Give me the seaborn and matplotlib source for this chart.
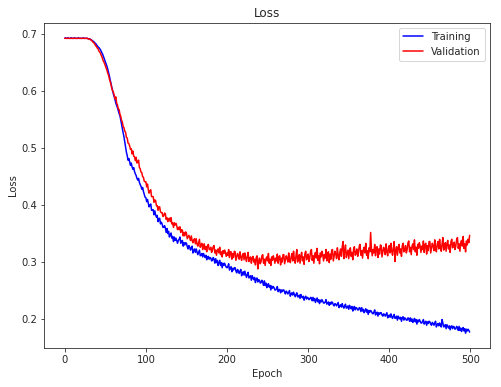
import numpy as np
import pandas as pd
import matplotlib
matplotlib.use("Agg")
import matplotlib.pyplot as plt
import seaborn as sns

# ----------------------------
# Loss curves (one value per epoch)
# ----------------------------

training_loss = [
    0.693, 0.694, 0.693, 0.693, 0.694, 0.693, 0.693, 0.693, 0.694, 0.693,
    0.693, 0.693, 0.694, 0.693, 0.693, 0.693, 0.693, 0.694, 0.693, 0.693,
    0.693, 0.693, 0.693, 0.694, 0.693, 0.693, 0.693, 0.693, 0.693, 0.692,
    0.692, 0.692, 0.691, 0.690, 0.689, 0.688, 0.687, 0.685, 0.684, 0.682,
    0.680, 0.678, 0.677, 0.675, 0.673, 0.670, 0.667, 0.664, 0.660, 0.656,
    0.652, 0.648, 0.644, 0.639, 0.633, 0.627, 0.620, 0.614, 0.607, 0.601,
    0.595, 0.590, 0.585, 0.579, 0.575, 0.571, 0.566, 0.561, 0.557, 0.550,
    0.542, 0.535, 0.527, 0.520, 0.511, 0.502, 0.493, 0.487, 0.479, 0.482,
    0.476, 0.470, 0.474, 0.467, 0.463, 0.466, 0.459, 0.455, 0.452, 0.447,
    0.444, 0.447, 0.440, 0.436, 0.433, 0.428, 0.431, 0.424, 0.419, 0.414,
    0.413, 0.406, 0.410, 0.403, 0.397, 0.400, 0.402, 0.391, 0.391, 0.392,
    0.383, 0.390, 0.383, 0.379, 0.382, 0.371, 0.376, 0.377, 0.367, 0.370,
    0.367, 0.361, 0.361, 0.364, 0.360, 0.352, 0.359, 0.350, 0.354, 0.344,
    0.348, 0.351, 0.342, 0.345, 0.336, 0.344, 0.338, 0.342, 0.338, 0.333,
    0.338, 0.340, 0.344, 0.333, 0.336, 0.338, 0.328, 0.334, 0.330, 0.334,
    0.333, 0.327, 0.323, 0.329, 0.326, 0.321, 0.325, 0.328, 0.316, 0.320,
    0.323, 0.317, 0.323, 0.318, 0.313, 0.317, 0.321, 0.311, 0.312, 0.315,
    0.309, 0.315, 0.311, 0.308, 0.312, 0.304, 0.309, 0.310, 0.305, 0.308,
    0.307, 0.302, 0.303, 0.308, 0.305, 0.298, 0.306, 0.299, 0.303, 0.294,
    0.299, 0.303, 0.294, 0.299, 0.290, 0.298, 0.294, 0.298, 0.294, 0.291,
    0.290, 0.292, 0.297, 0.286, 0.289, 0.292, 0.283, 0.289, 0.286, 0.290,
    0.290, 0.284, 0.281, 0.287, 0.284, 0.280, 0.284, 0.287, 0.276, 0.280,
    0.283, 0.277, 0.284, 0.278, 0.273, 0.278, 0.282, 0.272, 0.274, 0.276,
    0.268, 0.276, 0.272, 0.269, 0.273, 0.264, 0.270, 0.272, 0.265, 0.269,
    0.268, 0.263, 0.264, 0.268, 0.265, 0.259, 0.267, 0.259, 0.263, 0.255,
    0.259, 0.262, 0.256, 0.259, 0.251, 0.258, 0.254, 0.257, 0.255, 0.251,
    0.251, 0.253, 0.257, 0.248, 0.251, 0.252, 0.246, 0.251, 0.248, 0.251,
    0.251, 0.247, 0.244, 0.249, 0.247, 0.244, 0.247, 0.250, 0.240, 0.244,
    0.246, 0.242, 0.247, 0.243, 0.239, 0.243, 0.246, 0.239, 0.239, 0.242,
    0.236, 0.243, 0.239, 0.237, 0.240, 0.233, 0.238, 0.240, 0.235, 0.238,
    0.237, 0.234, 0.235, 0.238, 0.237, 0.232, 0.238, 0.232, 0.236, 0.229,
    0.233, 0.237, 0.230, 0.234, 0.227, 0.233, 0.230, 0.234, 0.231, 0.228,
    0.228, 0.230, 0.234, 0.226, 0.228, 0.230, 0.224, 0.229, 0.226, 0.230,
    0.229, 0.225, 0.223, 0.227, 0.226, 0.223, 0.226, 0.229, 0.220, 0.223,
    0.225, 0.221, 0.227, 0.222, 0.219, 0.223, 0.226, 0.219, 0.220, 0.223,
    0.217, 0.224, 0.220, 0.218, 0.222, 0.214, 0.220, 0.222, 0.216, 0.220,
    0.219, 0.216, 0.216, 0.220, 0.219, 0.213, 0.220, 0.214, 0.217, 0.211,
    0.215, 0.218, 0.212, 0.216, 0.208, 0.215, 0.212, 0.215, 0.213, 0.210,
    0.209, 0.212, 0.216, 0.207, 0.210, 0.212, 0.205, 0.211, 0.208, 0.211,
    0.211, 0.207, 0.205, 0.209, 0.208, 0.205, 0.208, 0.211, 0.202, 0.205,
    0.207, 0.203, 0.209, 0.204, 0.201, 0.205, 0.208, 0.201, 0.202, 0.205,
    0.198, 0.205, 0.202, 0.200, 0.203, 0.196, 0.202, 0.204, 0.198, 0.202,
    0.201, 0.198, 0.198, 0.202, 0.201, 0.196, 0.202, 0.196, 0.200, 0.194,
    0.197, 0.201, 0.195, 0.199, 0.191, 0.198, 0.195, 0.199, 0.196, 0.193,
    0.193, 0.196, 0.199, 0.191, 0.194, 0.196, 0.189, 0.195, 0.192, 0.196,
    0.195, 0.191, 0.189, 0.194, 0.192, 0.189, 0.193, 0.196, 0.186, 0.190,
    0.192, 0.188, 0.193, 0.189, 0.186, 0.199, 0.193, 0.186, 0.187, 0.190,
    0.183, 0.190, 0.187, 0.184, 0.188, 0.181, 0.187, 0.188, 0.183, 0.187,
    0.186, 0.182, 0.183, 0.187, 0.185, 0.180, 0.187, 0.180, 0.184, 0.178,
    0.182, 0.185, 0.179, 0.183, 0.175, 0.182, 0.179, 0.182, 0.180, 0.177,
]

validation_loss = [
    0.693, 0.693, 0.693, 0.693, 0.693, 0.693, 0.693, 0.693, 0.693, 0.693,
    0.693, 0.693, 0.693, 0.693, 0.693, 0.693, 0.693, 0.693, 0.693, 0.693,
    0.693, 0.693, 0.693, 0.693, 0.693, 0.693, 0.693, 0.693, 0.693, 0.692,
    0.692, 0.691, 0.691, 0.689, 0.688, 0.686, 0.685, 0.683, 0.680, 0.679,
    0.676, 0.675, 0.671, 0.669, 0.667, 0.663, 0.660, 0.655, 0.652, 0.649,
    0.645, 0.641, 0.637, 0.632, 0.628, 0.622, 0.617, 0.612, 0.605, 0.601,
    0.598, 0.593, 0.587, 0.590, 0.579, 0.576, 0.569, 0.568, 0.560, 0.556,
    0.549, 0.546, 0.538, 0.536, 0.530, 0.528, 0.519, 0.518, 0.509, 0.508,
    0.504, 0.498, 0.499, 0.490, 0.495, 0.486, 0.485, 0.478, 0.484, 0.474,
    0.475, 0.479, 0.466, 0.464, 0.458, 0.457, 0.450, 0.449, 0.442, 0.441,
    0.441, 0.432, 0.437, 0.427, 0.421, 0.425, 0.427, 0.415, 0.415, 0.415,
    0.405, 0.409, 0.408, 0.399, 0.399, 0.391, 0.397, 0.397, 0.388, 0.387,
    0.387, 0.380, 0.381, 0.386, 0.385, 0.375, 0.378, 0.371, 0.376, 0.377,
    0.371, 0.378, 0.367, 0.369, 0.361, 0.369, 0.365, 0.368, 0.364, 0.357,
    0.361, 0.357, 0.362, 0.352, 0.357, 0.356, 0.346, 0.352, 0.346, 0.353,
    0.351, 0.341, 0.344, 0.347, 0.343, 0.338, 0.346, 0.338, 0.334, 0.339,
    0.341, 0.332, 0.341, 0.332, 0.328, 0.334, 0.340, 0.326, 0.330, 0.333,
    0.322, 0.330, 0.332, 0.322, 0.327, 0.318, 0.329, 0.331, 0.322, 0.322,
    0.326, 0.317, 0.321, 0.327, 0.329, 0.316, 0.321, 0.312, 0.321, 0.323,
    0.316, 0.326, 0.313, 0.318, 0.309, 0.320, 0.315, 0.321, 0.317, 0.310,
    0.316, 0.312, 0.322, 0.308, 0.318, 0.318, 0.305, 0.315, 0.308, 0.319,
    0.318, 0.303, 0.309, 0.315, 0.311, 0.305, 0.318, 0.308, 0.303, 0.312,
    0.315, 0.304, 0.316, 0.307, 0.301, 0.310, 0.317, 0.301, 0.306, 0.309,
    0.298, 0.307, 0.310, 0.300, 0.305, 0.295, 0.308, 0.311, 0.288, 0.301,
    0.307, 0.297, 0.301, 0.311, 0.313, 0.298, 0.305, 0.294, 0.306, 0.309,
    0.302, 0.315, 0.298, 0.305, 0.294, 0.309, 0.303, 0.311, 0.306, 0.298,
    0.307, 0.302, 0.314, 0.298, 0.309, 0.311, 0.295, 0.307, 0.300, 0.313,
    0.313, 0.297, 0.304, 0.311, 0.307, 0.300, 0.316, 0.304, 0.299, 0.309,
    0.315, 0.302, 0.319, 0.305, 0.298, 0.311, 0.322, 0.300, 0.307, 0.313,
    0.298, 0.311, 0.317, 0.302, 0.309, 0.296, 0.315, 0.319, 0.304, 0.307,
    0.314, 0.301, 0.307, 0.319, 0.322, 0.303, 0.311, 0.298, 0.313, 0.317,
    0.307, 0.324, 0.303, 0.311, 0.297, 0.316, 0.309, 0.319, 0.313, 0.302,
    0.313, 0.307, 0.322, 0.302, 0.316, 0.318, 0.299, 0.314, 0.305, 0.321,
    0.322, 0.302, 0.310, 0.319, 0.314, 0.306, 0.325, 0.311, 0.304, 0.317,
    0.323, 0.310, 0.327, 0.336, 0.306, 0.319, 0.330, 0.308, 0.315, 0.321,
    0.306, 0.319, 0.325, 0.310, 0.317, 0.304, 0.323, 0.327, 0.312, 0.315,
    0.323, 0.310, 0.316, 0.328, 0.331, 0.312, 0.320, 0.307, 0.322, 0.326,
    0.316, 0.333, 0.312, 0.320, 0.306, 0.325, 0.318, 0.352, 0.322, 0.311,
    0.322, 0.316, 0.331, 0.311, 0.325, 0.327, 0.308, 0.323, 0.314, 0.330,
    0.329, 0.309, 0.317, 0.326, 0.321, 0.313, 0.332, 0.318, 0.311, 0.324,
    0.329, 0.316, 0.333, 0.319, 0.312, 0.325, 0.336, 0.301, 0.321, 0.327,
    0.312, 0.325, 0.331, 0.316, 0.323, 0.310, 0.329, 0.333, 0.318, 0.321,
    0.329, 0.316, 0.322, 0.334, 0.337, 0.318, 0.326, 0.313, 0.328, 0.332,
    0.322, 0.339, 0.318, 0.326, 0.312, 0.331, 0.324, 0.334, 0.328, 0.317,
    0.328, 0.322, 0.337, 0.317, 0.331, 0.333, 0.314, 0.329, 0.320, 0.336,
    0.336, 0.316, 0.324, 0.333, 0.328, 0.320, 0.339, 0.325, 0.318, 0.331,
    0.336, 0.323, 0.340, 0.326, 0.319, 0.332, 0.343, 0.321, 0.328, 0.334,
    0.319, 0.332, 0.338, 0.323, 0.330, 0.317, 0.336, 0.340, 0.325, 0.328,
    0.335, 0.322, 0.328, 0.340, 0.343, 0.324, 0.332, 0.319, 0.334, 0.338,
    0.328, 0.345, 0.324, 0.332, 0.318, 0.337, 0.330, 0.340, 0.334, 0.347,
]

epochs = np.arange(len(training_loss))

loss_df = pd.DataFrame({
    "epoch": epochs,
    "training": training_loss,
    "validation": validation_loss,
})

# ----------------------------
# Plot
# ----------------------------
sns.set_style("ticks")
plt.rcParams["font.family"] = ["DejaVu Sans"]
plt.rcParams["font.size"] = 10

fig = plt.figure(figsize=(501 / 72, 387 / 72), dpi=72)
ax = fig.add_axes([0.0888, 0.1008, 0.889, 0.8398])

sns.lineplot(data=loss_df, x="epoch", y="training", color="blue",
             linewidth=1.5, label="Training", ax=ax)
sns.lineplot(data=loss_df, x="epoch", y="validation", color="red",
             linewidth=1.5, label="Validation", ax=ax)

ax.set_title("Loss", fontsize=12)
ax.set_xlabel("Epoch")
ax.set_ylabel("Loss")
ax.set_xticks([0, 100, 200, 300, 400, 500])
ax.set_yticks([0.2, 0.3, 0.4, 0.5, 0.6, 0.7])
ax.tick_params(labelsize=10, length=3.5)
ax.legend(loc="upper right", fontsize=10)

fig.savefig("out.png", dpi=72)
